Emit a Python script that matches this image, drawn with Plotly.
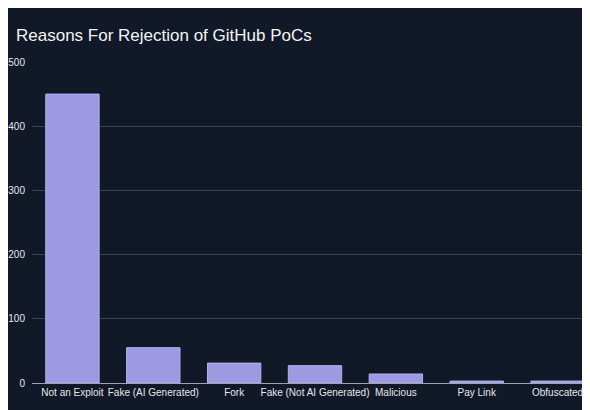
import plotly.graph_objects as go

categories = ["Not an Exploit", "Fake (AI Generated)", "Fork", "Fake (Not AI Generated)",
              "Malicious", "Pay Link", "Obfuscated"]
counts = [450, 55, 31, 27, 14, 3, 3]
y_ticks = [0, 100, 200, 300, 400, 500]

fig = go.Figure(go.Bar(x=categories, y=counts, marker=dict(color="#9e9ae2", line=dict(color="#b4b0f0", width=1))))
fig.update_layout(
    width=590, height=410,
    paper_bgcolor="#111827", plot_bgcolor="#111827",
    margin=dict(l=10, r=0, t=54, b=35),
    bargap=0.34,
    showlegend=False,
    font=dict(family="Liberation Sans, Arial, sans-serif", color="#e5e7eb"),
)
fig.add_annotation(text="Reasons For Rejection of GitHub PoCs", xref="paper", yref="paper",
                   x=-0.031, xanchor="left", y=1.083, yanchor="middle", showarrow=False,
                   font=dict(size=17, color="#f3f4f6"))
fig.update_yaxes(range=[0, 500], tickvals=y_ticks, gridcolor="#374151", gridwidth=1,
                 zeroline=False, tickfont=dict(size=10, color="#e5e7eb"), ticks="", ticklabelstandoff=6)
fig.update_xaxes(showline=True, linecolor="#9ca3af", linewidth=1, ticks="",
                 tickfont=dict(size=10, color="#e5e7eb"), tickangle=0)
fig.write_html("out.html")
